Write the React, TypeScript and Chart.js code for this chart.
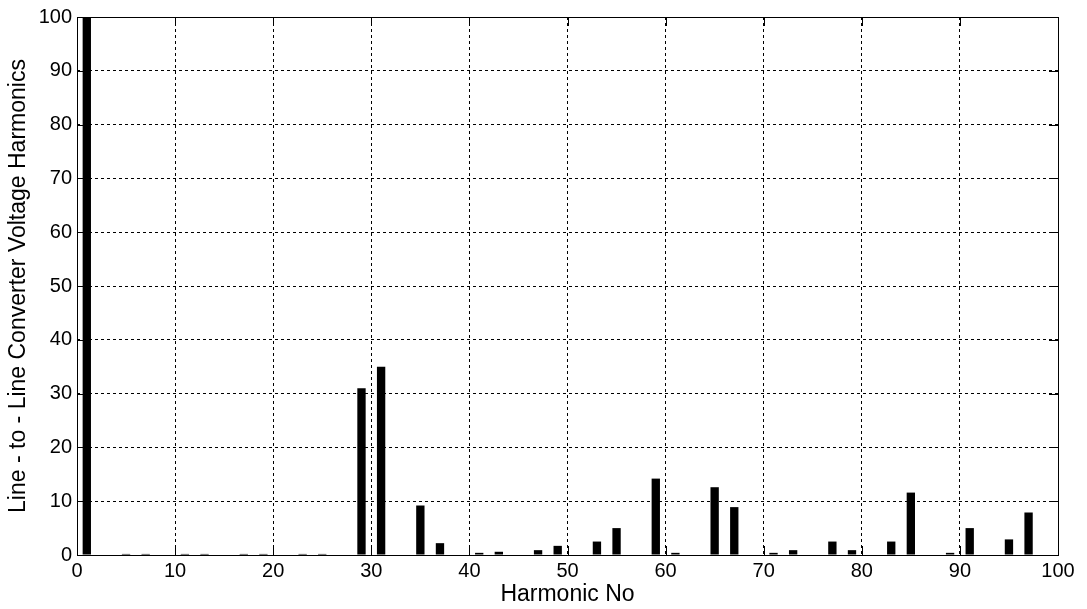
import React, { useEffect, useRef } from "react";
import { Chart, registerables } from "chart.js";

Chart.register(...registerables);

const harmonics = [1, 5, 7, 11, 13, 17, 19, 23, 25, 29, 31, 35, 37, 41, 43, 47, 49, 53, 55, 59, 61, 65, 67, 71, 73, 77, 79, 83, 85, 89, 91, 95, 97];
const magnitudes = [100, 0.2, 0.2, 0.2, 0.2, 0.2, 0.2, 0.2, 0.2, 31, 35, 9.2, 2.2, 0.4, 0.6, 0.9, 1.7, 2.5, 5.0, 14.2, 0.4, 12.6, 8.9, 0.4, 0.9, 2.5, 0.9, 2.5, 11.6, 0.4, 5.0, 2.9, 7.9];
const xTickValues = [0, 10, 20, 30, 40, 50, 60, 70, 80, 90, 100];
const yTickValues = [0, 10, 20, 30, 40, 50, 60, 70, 80, 90, 100];
const xTitle = "Harmonic No";
const yTitle = "Line - to - Line Converter Voltage Harmonics";

const FONT = "'Liberation Sans', Arial, Helvetica, sans-serif";

const framePlugin = {
  id: "matlabFrame",
  afterDraw(chart: any) {
    const { ctx, chartArea } = chart;
    const { left, right, top, bottom } = chartArea;
    const xs = chart.scales.x;
    const ys = chart.scales.y;
    const tick = 9;
    ctx.save();
    ctx.strokeStyle = "#000";
    ctx.lineWidth = 1;
    ctx.setLineDash([]);
    ctx.beginPath();
    for (const v of xTickValues) {
      const px = Math.round(xs.getPixelForValue(v)) + 0.5;
      ctx.moveTo(px, bottom);
      ctx.lineTo(px, bottom - tick);
      ctx.moveTo(px, top);
      ctx.lineTo(px, top + tick);
    }
    for (const v of yTickValues) {
      const py = Math.round(ys.getPixelForValue(v)) + 0.5;
      ctx.moveTo(left, py);
      ctx.lineTo(left + tick, py);
      ctx.moveTo(right, py);
      ctx.lineTo(right - tick, py);
    }
    ctx.stroke();
    ctx.strokeRect(Math.round(left) + 0.5, Math.round(top) + 0.5, Math.round(right - left), Math.round(bottom - top));
    ctx.restore();
  },
};

export default function App() {
  const canvasRef = useRef<HTMLCanvasElement | null>(null);

  useEffect(() => {
    if (!canvasRef.current) return;
    const chart = new Chart(canvasRef.current, {
      type: "bar",
      data: {
        datasets: [
          {
            data: harmonics.map((h, i) => ({ x: h, y: magnitudes[i] })),
            backgroundColor: "#000",
            borderWidth: 0,
            barPercentage: 0.85,
            categoryPercentage: 0.5,
          },
        ],
      },
      options: {
        animation: false,
        responsive: true,
        maintainAspectRatio: false,
        layout: { padding: { left: 0, top: 17, right: 29, bottom: 0 } },
        plugins: {
          legend: { display: false },
          tooltip: { enabled: false },
        },
        scales: {
          x: {
            type: "linear",
            min: 0,
            max: 100,
            offset: false,
            afterFit: (scale: any) => {
              scale.height = 54;
            },
            afterBuildTicks: (scale: any) => {
              scale.ticks = xTickValues.map((v) => ({ value: v }));
            },
            ticks: {
              color: "#000",
              font: { family: FONT, size: 20 },
              padding: 4,
              maxRotation: 0,
              autoSkip: false,
            },
            grid: {
              color: "#000",
              lineWidth: 1,
              drawTicks: false,
              offset: false,
            },
            border: { display: false, dash: [3, 3] },
            title: {
              display: true,
              text: xTitle,
              color: "#000",
              font: { family: FONT, size: 23, lineHeight: 1.2 },
              padding: { top: 0, bottom: 1 },
            },
          },
          y: {
            type: "linear",
            min: 0,
            max: 100,
            afterFit: (scale: any) => {
              scale.width = 77;
            },
            afterBuildTicks: (scale: any) => {
              scale.ticks = yTickValues.map((v) => ({ value: v }));
            },
            ticks: {
              color: "#000",
              font: { family: FONT, size: 20 },
              padding: 5,
              autoSkip: false,
            },
            grid: {
              color: "#000",
              lineWidth: 1,
              drawTicks: false,
            },
            border: { display: false, dash: [3, 3] },
            title: {
              display: true,
              text: yTitle,
              color: "#000",
              font: { family: FONT, size: 23, lineHeight: 1.2 },
              padding: { top: 5, bottom: 0 },
            },
          },
        },
      },
      plugins: [framePlugin],
    });
    return () => chart.destroy();
  }, []);

  return (
    <div style={{ position: "fixed", left: 0, top: 0, width: 1087, height: 609, background: "#fff" }}>
      <canvas ref={canvasRef} />
    </div>
  );
}
